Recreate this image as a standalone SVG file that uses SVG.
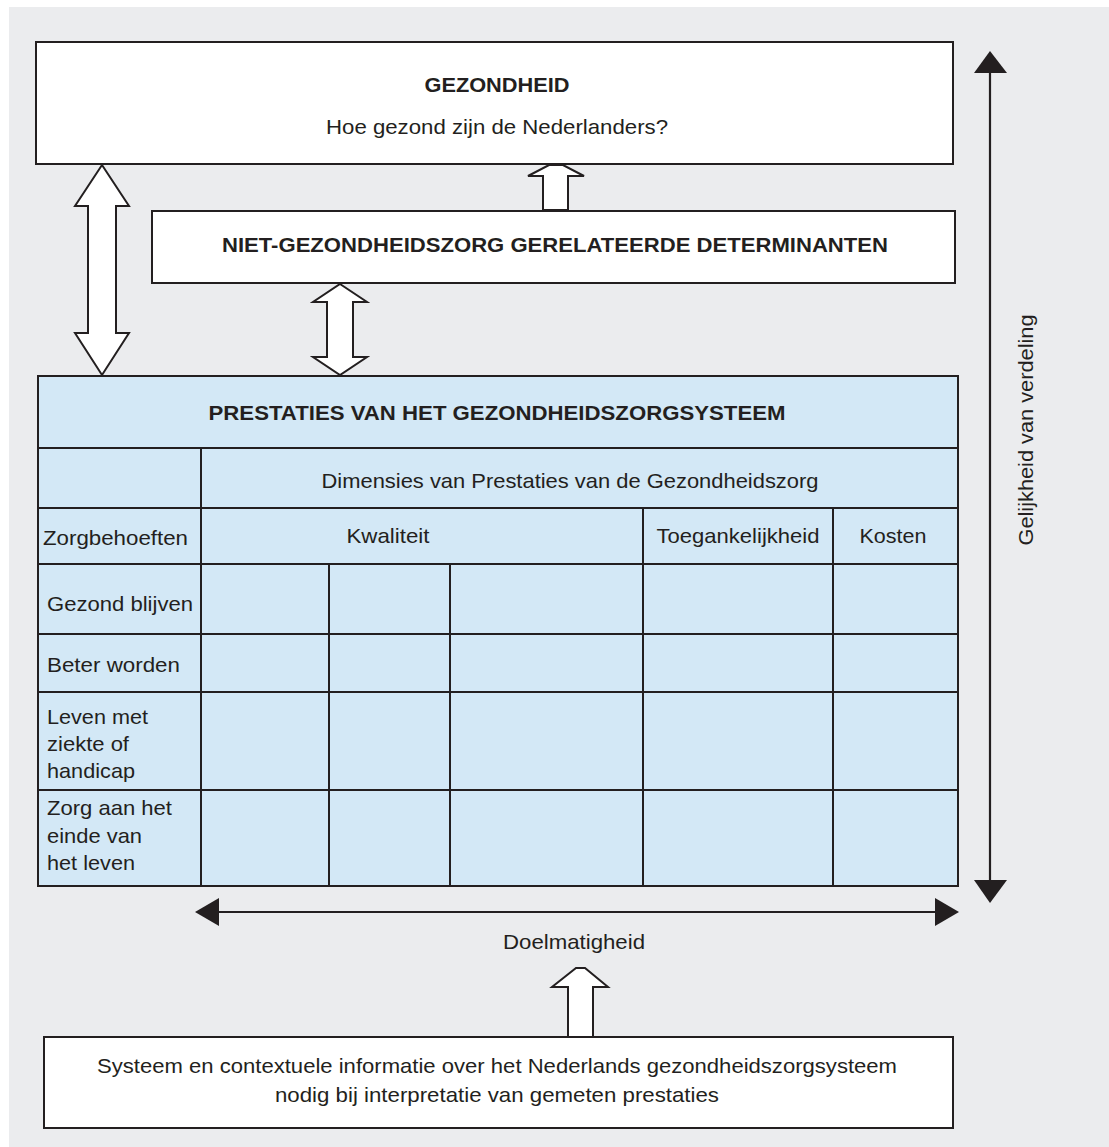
<svg xmlns="http://www.w3.org/2000/svg" width="1109" height="1147" viewBox="0 0 1109 1147">
  <defs>
    <style>
      .box { fill: #ffffff; stroke: #231f20; stroke-width: 2; }
      .tbl { fill: #d3e8f6; stroke: #231f20; stroke-width: 2; }
      .grid { stroke: #231f20; stroke-width: 2; fill: none; }
      .block { fill: #ffffff; stroke: #231f20; stroke-width: 2; stroke-linejoin: miter; }
      .axis { stroke: #231f20; stroke-width: 2.2; fill: none; }
      .head { fill: #231f20; stroke: none; }
      text { font-family: "Liberation Sans", Arial, sans-serif; fill: #231f20; font-size: 21px; }
      .b { font-weight: bold; font-size: 20px; }
      .c { text-anchor: middle; }
    </style>
  </defs>

  <!-- page background -->
  <rect x="0" y="0" width="1109" height="1147" fill="#ffffff"/>
  <rect x="9" y="7" width="1100" height="1140" fill="#ebecee"/>

  <!-- connectors -->
  <g id="connectors">
    <!-- gezondheid <-> prestaties -->
    <polygon class="block" points="102,165 129,206 116,206 116,333 129,333 102,375 75,333 88,333 88,206 75,206"/>
    <!-- determinanten <-> prestaties -->
    <polygon class="block" points="340,284 367,302 353,302 353,357 367,357 340,375 313,357 327,357 327,302 313,302"/>
    <!-- determinanten -> gezondheid -->
    <polygon class="block" points="543,210 543,176 528,176 549,165 563,165 584,176 568,176 568,210"/>
    <!-- context -> doelmatigheid -->
    <polygon class="block" points="568,1037 568,987 552,987 576,968 585,968 608,987 593,987 593,1037"/>
    <!-- equity axis -->
    <line class="axis" x1="990" y1="70" x2="990" y2="884"/>
    <polygon class="head" points="990,51 1007,73 974,73"/>
    <polygon class="head" points="990,903 974,880 1007,880"/>
    <!-- efficiency axis -->
    <line class="axis" x1="216" y1="912" x2="938" y2="912"/>
    <polygon class="head" points="195,912 219,898 219,926"/>
    <polygon class="head" points="959,912 935,898 935,926"/>
  </g>

  <!-- health outcome -->
  <g id="gezondheid">
    <rect class="box" x="36" y="42" width="917" height="122"/>
    <text class="b c" x="497" y="92" textLength="145" lengthAdjust="spacingAndGlyphs">GEZONDHEID</text>
    <text class="c" x="497" y="134" textLength="342" lengthAdjust="spacingAndGlyphs">Hoe gezond zijn de Nederlanders?</text>
  </g>

  <!-- non-healthcare determinants -->
  <g id="determinanten">
    <rect class="box" x="152" y="211" width="803" height="72"/>
    <text class="b c" x="555" y="252" textLength="666" lengthAdjust="spacingAndGlyphs">NIET-GEZONDHEIDSZORG GERELATEERDE DETERMINANTEN</text>
  </g>

  <!-- performance framework table -->
  <g id="prestaties">
    <rect class="tbl" x="38" y="376" width="920" height="510"/>
    <path class="grid" d="M38 448H958 M38 508H958 M38 564H958 M38 634H958 M38 692H958 M38 790H958
                          M201 448V886 M643 508V886 M833 508V886 M329 564V886 M450 564V886"/>
    <text class="b c" x="497" y="420" textLength="577" lengthAdjust="spacingAndGlyphs">PRESTATIES VAN HET GEZONDHEIDSZORGSYSTEEM</text>
    <text class="c" x="570" y="488" textLength="497" lengthAdjust="spacingAndGlyphs">Dimensies van Prestaties van de Gezondheidszorg</text>
    <text x="43" y="545" textLength="145" lengthAdjust="spacingAndGlyphs">Zorgbehoeften</text>
    <text class="c" x="388" y="543" textLength="83" lengthAdjust="spacingAndGlyphs">Kwaliteit</text>
    <text class="c" x="738" y="543" textLength="163" lengthAdjust="spacingAndGlyphs">Toegankelijkheid</text>
    <text class="c" x="893" y="543" textLength="67" lengthAdjust="spacingAndGlyphs">Kosten</text>
    <text x="47" y="611" textLength="146" lengthAdjust="spacingAndGlyphs">Gezond blijven</text>
    <text x="47" y="672" textLength="133" lengthAdjust="spacingAndGlyphs">Beter worden</text>
    <text x="47" y="724" textLength="101" lengthAdjust="spacingAndGlyphs">Leven met</text>
    <text x="47" y="751" textLength="82" lengthAdjust="spacingAndGlyphs">ziekte of</text>
    <text x="47" y="778" textLength="88" lengthAdjust="spacingAndGlyphs">handicap</text>
    <text x="47" y="815" textLength="125" lengthAdjust="spacingAndGlyphs">Zorg aan het</text>
    <text x="47" y="843" textLength="95" lengthAdjust="spacingAndGlyphs">einde van</text>
    <text x="47" y="870" textLength="88" lengthAdjust="spacingAndGlyphs">het leven</text>
  </g>

  <!-- axis labels -->
  <g id="gelijkheid">
    <text class="c" transform="translate(1033,430) rotate(-90)" x="0" y="0" textLength="231" lengthAdjust="spacingAndGlyphs">Gelijkheid van verdeling</text>
  </g>
  <g id="doelmatigheid">
    <text class="c" x="574" y="949" textLength="142" lengthAdjust="spacingAndGlyphs">Doelmatigheid</text>
  </g>

  <!-- context information -->
  <g id="context">
    <rect class="box" x="44" y="1037" width="909" height="91"/>
    <text class="c" x="497" y="1073" textLength="800" lengthAdjust="spacingAndGlyphs">Systeem en contextuele informatie over het Nederlands gezondheidszorgsysteem</text>
    <text class="c" x="497" y="1102" textLength="444" lengthAdjust="spacingAndGlyphs">nodig bij interpretatie van gemeten prestaties</text>
  </g>
</svg>
